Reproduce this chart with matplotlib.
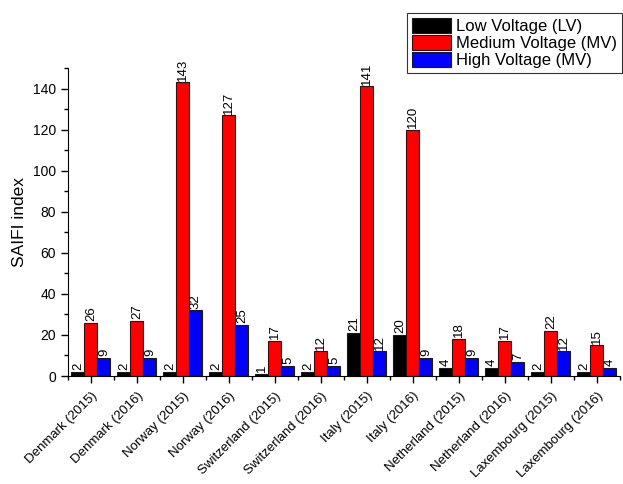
import matplotlib
matplotlib.use("Agg")
import matplotlib.pyplot as plt
import numpy as np
from matplotlib.ticker import MultipleLocator, FixedLocator

plt.rcParams['font.family'] = ['Liberation Sans', 'DejaVu Sans']

categories = ["Denmark (2015)", "Denmark (2016)", "Norway (2015)", "Norway (2016)",
              "Switzerland (2015)", "Switzerland (2016)", "Italy (2015)", "Italy (2016)",
              "Netherland (2015)", "Netherland (2016)", "Laxembourg (2015)", "Laxembourg (2016)"]
lv = [2, 2, 2, 2, 1, 2, 21, 20, 4, 4, 2, 2]
mv = [26, 27, 143, 127, 17, 12, 141, 120, 18, 17, 22, 15]
hv = [9, 9, 32, 25, 5, 5, 12, 9, 9, 7, 12, 4]
series_names = ["Low Voltage (LV)", "Medium Voltage (MV)", "High Voltage (MV)"]
colors = ["#000000", "#ff0000", "#0000ff"]

fig = plt.figure(figsize=(6.23, 4.84), dpi=100)
ax = fig.add_axes([0.109, 0.2231, 0.886, 0.6364])

x = np.arange(len(categories))
w = 0.283
for i, (vals, name, c) in enumerate(zip([lv, mv, hv], series_names, colors)):
    pos = x + (i - 1) * w
    ax.bar(pos, vals, width=w, color=c, edgecolor="#1a1a1a", linewidth=0.8, label=name)
    for xp, v in zip(pos, vals):
        ax.text(xp, v + 0.8, str(v), rotation=90, ha="center", va="bottom", fontsize=9.5, clip_on=False)

ax.set_xlim(-0.5, len(categories) - 0.5)
ax.set_ylim(0, 150)
ax.spines['top'].set_visible(False)
ax.spines['right'].set_visible(False)
ax.yaxis.set_major_locator(MultipleLocator(20))
ax.yaxis.set_minor_locator(MultipleLocator(10))
ax.set_xticks(x)
ax.set_xticklabels(categories, rotation=45, ha="right", rotation_mode="anchor", fontsize=9.5)
ax.xaxis.set_minor_locator(FixedLocator(np.arange(-0.5, len(categories), 1.0)))
ax.tick_params(axis='both', which='major', direction='out', length=5, width=1)
ax.tick_params(axis='both', which='minor', direction='out', length=3, width=1)
ax.tick_params(axis='x', which='major', pad=5)
ax.tick_params(axis='y', labelsize=10)
ax.set_ylabel("SAIFI index", fontsize=12.5)

leg = fig.legend(loc="upper right", bbox_to_anchor=(0.999, 0.973), fontsize=12,
                 frameon=True, fancybox=False, edgecolor="black", borderaxespad=0,
                 handlelength=2.3, handleheight=1.0, labelspacing=0.05, borderpad=0.3,
                 handletextpad=0.35)
leg.get_frame().set_linewidth(0.8)

fig.savefig("out.png", dpi=100)
